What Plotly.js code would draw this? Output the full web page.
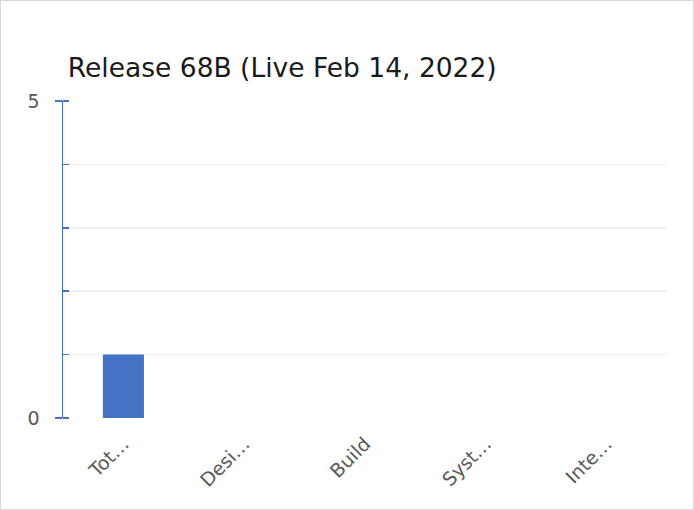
<!DOCTYPE html>
<html>
<head>
<meta charset="utf-8">
<script src="https://cdn.plot.ly/plotly-3.0.1.min.js"></script>
<style>
html,body{margin:0;padding:0;background:#fff;}
#frame{position:absolute;left:0;top:0;width:692px;height:508px;border:1px solid #d9d9d9;}
#chart{position:absolute;left:-1px;top:-1px;width:694px;height:510px;}
</style>
</head>
<body>
<div id="frame"><div id="chart"></div></div>
<script>
const categories = ["Tot…", "Desi…", "Build", "Syst…", "Inte…"];
const values = [1, 0, 0, 0, 0];
const chartTitle = "Release 68B (Live Feb 14, 2022)";

const FONT = "DejaVu Sans, sans-serif";

Plotly.newPlot("chart", [{
  type: "bar",
  x: categories,
  y: values,
  marker: {color: "#4472c4"},
  hoverinfo: "skip"
}], {
  width: 694, height: 510,
  margin: {l: 63, r: 27, t: 101, b: 92},
  paper_bgcolor: "rgba(0,0,0,0)",
  plot_bgcolor: "#fff",
  bargap: 0.66,
  showlegend: false,
  title: {
    text: chartTitle,
    x: 0.008, xref: "paper", xanchor: "left",
    y: 0.868, yref: "container", yanchor: "middle",
    font: {family: FONT, size: 26.5, color: "#1a1a1a"}
  },
  xaxis: {
    type: "category",
    tickangle: -45,
    tickfont: {family: FONT, size: 19, color: "#595959"},
    ticklabelstandoff: 10,
    showgrid: false,
    showline: false,
    zeroline: false,
    ticks: "",
    fixedrange: true
  },
  yaxis: {
    range: [0, 5],
    dtick: 5,
    tick0: 0,
    ticks: "outside",
    ticklen: 7,
    tickwidth: 1.5,
    tickcolor: "#4472c4",
    ticklabelstandoff: 11,
    tickfont: {family: FONT, size: 19, color: "#595959"},
    showline: true,
    linecolor: "#4472c4",
    linewidth: 1.5,
    showgrid: true,
    gridcolor: "#d9d9d9",
    gridwidth: 1.5,
    zeroline: false,
    minor: {
      dtick: 1,
      ticks: "inside",
      ticklen: 6,
      tickcolor: "#4472c4",
      tickwidth: 1.5,
      showgrid: true,
      gridcolor: "#f0f0f0",
      gridwidth: 1.5
    },
    fixedrange: true
  }
}, {displayModeBar: false, staticPlot: true});
</script>
</body>
</html>
